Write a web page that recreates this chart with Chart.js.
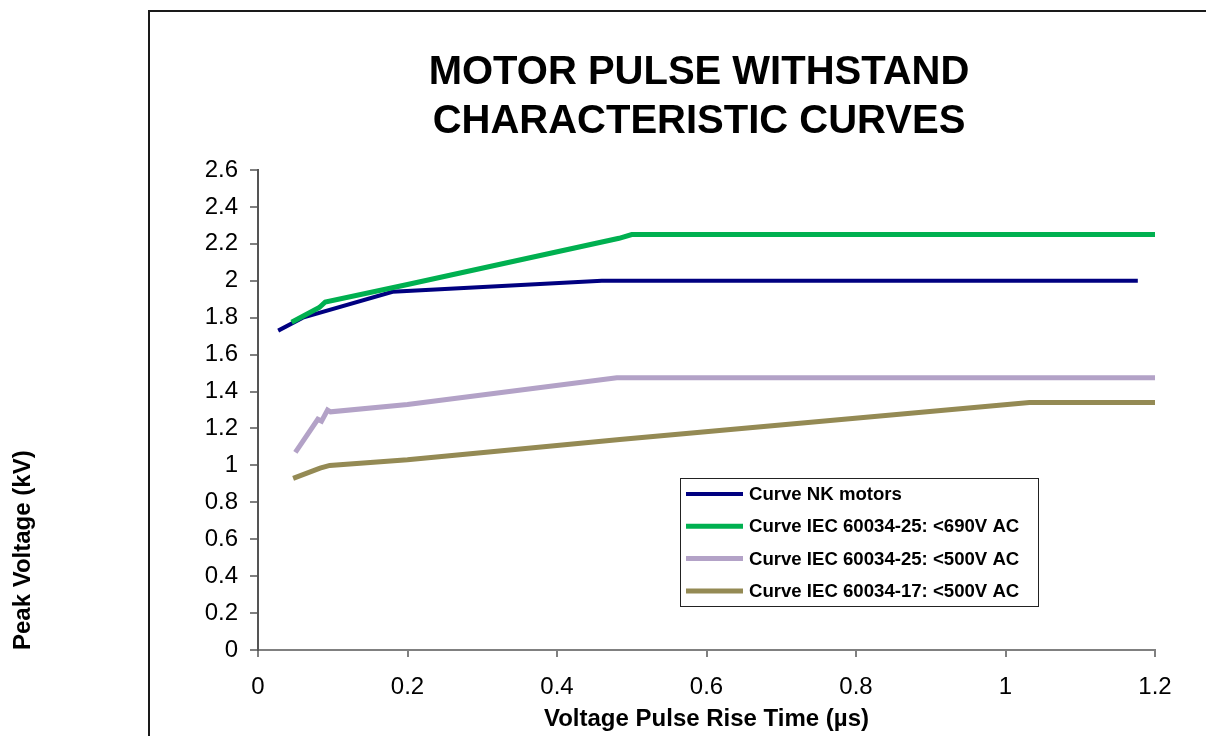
<!DOCTYPE html>
<html>
<head>
<meta charset="utf-8">
<script src="https://cdn.jsdelivr.net/npm/chart.js@4.4.1/dist/chart.umd.min.js"></script>
<style>
  html, body { margin: 0; padding: 0; background: #fff; }
  #wrap { width: 1206px; height: 736px; position: relative; }
</style>
</head>
<body>
<div id="wrap"><canvas id="c" width="1206" height="736"></canvas></div>
<script>
// ---- data ----
const seriesLabels = [
  "Curve NK motors",
  "Curve IEC 60034-25: <690V AC",
  "Curve IEC 60034-25: <500V AC",
  "Curve IEC 60034-17: <500V AC"
];
const nkX   = [0.027, 0.06, 0.18, 0.46, 1.177];
const nkY   = [1.73, 1.80, 1.94, 2.00, 2.00];
const iec690X = [0.045, 0.082, 0.09, 0.2, 0.483, 0.5, 1.2];
const iec690Y = [1.775, 1.855, 1.885, 1.98, 2.23, 2.25, 2.25];
const iec500X = [0.05, 0.08, 0.085, 0.093, 0.097, 0.2, 0.48, 1.2];
const iec500Y = [1.07, 1.25, 1.24, 1.30, 1.29, 1.33, 1.475, 1.475];
const iec17X  = [0.047, 0.083, 0.096, 0.2, 0.484, 1.032, 1.2];
const iec17Y  = [0.93, 0.985, 1.0, 1.03, 1.14, 1.34, 1.34];
const xTickValues = [0, 0.2, 0.4, 0.6, 0.8, 1, 1.2];
const yTickValues = [0, 0.2, 0.4, 0.6, 0.8, 1, 1.2, 1.4, 1.6, 1.8, 2, 2.2, 2.4, 2.6];
const chartTitle = ["MOTOR PULSE WITHSTAND", "CHARACTERISTIC CURVES"];
const xTitle = "Voltage Pulse Rise Time (\u00b5s)";
const yTitle = "Peak Voltage (kV)";

const colors = ["#000080", "#00B050", "#B3A2C7", "#948A54"];
const widths = [4, 5, 5, 5];
const drawOrder = [2, 1, 3, 4];

function pts(xs, ys) { return xs.map((x, i) => ({ x: x, y: ys[i] })); }
const seriesData = [pts(nkX, nkY), pts(iec690X, iec690Y), pts(iec500X, iec500Y), pts(iec17X, iec17Y)];

const FONT = "'Liberation Sans', Arial, sans-serif";

const framePlugin = {
  id: 'frame',
  beforeDraw(chart) {
    const ctx = chart.ctx;
    ctx.save();
    ctx.fillStyle = '#fff';
    ctx.fillRect(0, 0, chart.width, chart.height);
    ctx.strokeStyle = '#1a1a1a';
    ctx.lineWidth = 2;
    ctx.beginPath();
    ctx.moveTo(149, 736);
    ctx.lineTo(149, 11);
    ctx.lineTo(1206, 11);
    ctx.stroke();
    ctx.restore();
  }
};

const posTitle = {
  id: 'posTitle',
  afterDraw(chart, args, opts) {
    const ctx = chart.ctx;
    ctx.save();
    ctx.font = "bold " + opts.size + "px " + FONT;
    ctx.fillStyle = '#000';
    ctx.textAlign = 'center';
    ctx.textBaseline = 'middle';
    opts.text.forEach((line, i) => ctx.fillText(line, opts.x, opts.y + i * opts.lineH));
    ctx.restore();
  }
};

const boxLegend = {
  id: 'boxLegend',
  afterDraw(chart, args, opts) {
    const ctx = chart.ctx;
    const { left, top, width, height, rowH, sampleW, gap } = opts;
    ctx.save();
    ctx.fillStyle = '#fff';
    ctx.fillRect(left, top, width, height);
    ctx.strokeStyle = '#222';
    ctx.lineWidth = 1;
    ctx.strokeRect(left + 0.5, top + 0.5, width, height);
    ctx.font = "bold 18.6px " + FONT;
    ctx.textBaseline = 'middle';
    ctx.fillStyle = '#000';
    chart.data.datasets.forEach((ds, i) => {
      const y = top + 16 + i * rowH;
      ctx.strokeStyle = ds.borderColor;
      ctx.lineWidth = ds.borderWidth;
      ctx.beginPath();
      ctx.moveTo(left + 6, y);
      ctx.lineTo(left + 6 + sampleW, y);
      ctx.stroke();
      ctx.fillText(ds.label, left + 6 + sampleW + gap, y + 1);
    });
    ctx.restore();
  }
};

new Chart(document.getElementById('c'), {
  type: 'scatter',
  data: {
    datasets: seriesData.map((d, i) => ({
      label: seriesLabels[i],
      data: d,
      showLine: true,
      borderColor: colors[i],
      backgroundColor: colors[i],
      borderWidth: widths[i],
      pointRadius: 0,
      pointHoverRadius: 0,
      tension: 0,
      fill: false,
      order: drawOrder[i]
    }))
  },
  plugins: [framePlugin, posTitle, boxLegend],
  options: {
    responsive: false,
    animation: false,
    events: [],
    layout: { padding: { left: 0, right: 51, top: 170, bottom: 0 } },
    plugins: {
      legend: { display: false },
      tooltip: { enabled: false },
      title: { display: false },
      posTitle: { text: chartTitle, x: 699, y: 73, lineH: 49, size: 40 },
      boxLegend: { left: 680, top: 478, width: 358, height: 128, rowH: 32.3, sampleW: 57, gap: 6 }
    },
    scales: {
      x: {
        type: 'linear',
        min: 0, max: 1.2,
        afterBuildTicks: s => { s.ticks = xTickValues.map(v => ({ value: v })); },
        afterFit: s => { s.height = 86; },
        border: { display: true, color: '#808080', width: 2 },
        grid: { display: true, drawOnChartArea: false, drawTicks: true, tickLength: 7, color: '#808080', lineWidth: 2 },
        ticks: {
          color: '#000', padding: 16, maxRotation: 0, autoSkip: false,
          font: { family: FONT, size: 24 },
          callback: v => String(Number(v.toFixed(1)))
        },
        title: {
          display: true, text: xTitle, color: '#000',
          font: { family: FONT, size: 24, weight: 'bold' },
          padding: { top: 0, bottom: 2 }
        }
      },
      y: {
        type: 'linear',
        min: 0, max: 2.6,
        afterBuildTicks: s => { s.ticks = yTickValues.map(v => ({ value: v })); },
        afterFit: s => { s.width = 258; },
        border: { display: true, color: '#555', width: 2 },
        grid: { display: true, drawOnChartArea: false, drawTicks: true, tickLength: 8, color: '#808080', lineWidth: 2 },
        ticks: {
          color: '#000', padding: 12, autoSkip: false,
          font: { family: FONT, size: 24 },
          callback: v => String(Number(v.toFixed(1)))
        },
        title: {
          display: true, text: yTitle, color: '#000', align: 'start',
          font: { family: FONT, size: 24, weight: 'bold' },
          padding: { top: 9, bottom: 0 }
        }
      }
    }
  }
});
</script>
</body>
</html>
